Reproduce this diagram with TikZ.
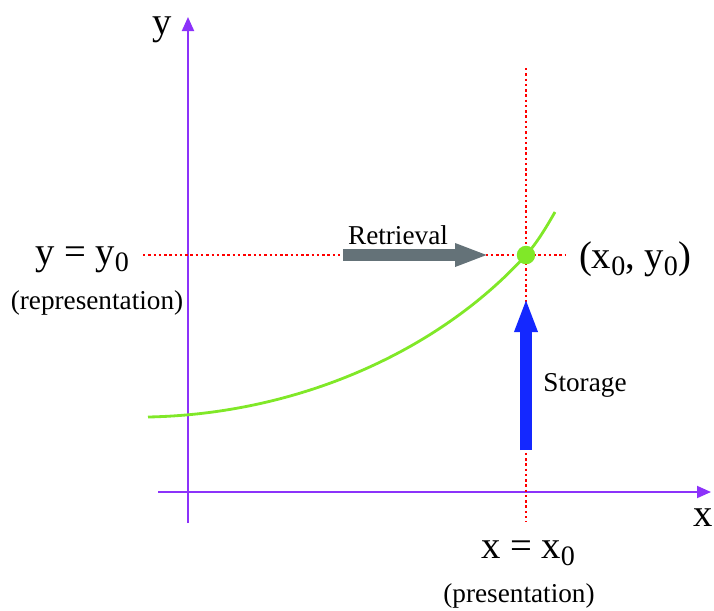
\documentclass[tikz,border=0pt]{standalone}
\usepackage{fontspec}
\setmainfont{Liberation Serif}
\usetikzlibrary{arrows.meta}
\definecolor{axisviolet}{RGB}{140,50,250}
\definecolor{curvegreen}{RGB}{128,232,40}
\definecolor{retrgray}{RGB}{100,114,120}
\definecolor{storblue}{RGB}{20,40,255}
\newcommand{\lowidx}[1]{\raisebox{-0.4ex}{\fontsize{16}{16}\selectfont #1}}
\tikzset{
  axis/.style={draw=axisviolet, line width=1.1pt, -{Triangle[length=0.28cm,width=0.24cm]}},
  guide/.style={draw=red, line width=1.4pt, dash pattern=on 1.4pt off 1.6pt},
  bigarrow/.style={line width=0.24cm, -{Triangle[length=0.68cm,width=0.42cm]}},
  biglabel/.style={font=\fontsize{22}{25}\selectfont, inner sep=0pt},
  smalllabel/.style={font=\fontsize{15.5}{17}\selectfont, inner sep=0pt},
}
\begin{document}
\begin{tikzpicture}[x=0.02cm, y=-0.02cm]
\useasboundingbox (0,0) rectangle (714,610);
% axes
\coordinate (ybot) at (188,523);
\coordinate (ytop) at (188,17);
\coordinate (xleft) at (158,492);
\coordinate (xright) at (711,492);
\draw[axis] (ybot) -- (ytop);
\draw[axis] (xleft) -- (xright);
\node[biglabel] (ylab) at (162,30) {y};
\node[biglabel] (xlab) at (703,518) {x};
% guide lines through the point
\coordinate (vtop) at (526,68);
\coordinate (vbot) at (526,522);
\coordinate (hleft) at (143,255);
\coordinate (hright) at (565,255);
\draw[guide] (vtop) -- (vbot);
\draw[guide] (hleft) -- (hright);
% the curve
\coordinate (cstart) at (148,417);
\coordinate (cend) at (555,212);
\node[circle, fill=curvegreen, inner sep=0pt, minimum size=0.37cm] (pt) at (526,255) {};
\draw[curvegreen, line width=1.6pt] (cstart) .. controls (300,414) and (440,350) .. (pt.center)
  .. controls (537,243) and (547,226) .. (cend);
% labels
\node[biglabel] (yeq) at (82,260) {y = y\lowidx{0}};
\node[smalllabel] (repr) at (97,303) {(representation)};
\node[biglabel] (ptlab) at (635,259) {(x\lowidx{0}, y\lowidx{0})};
\node[biglabel] (xeq) at (528,553) {x = x\lowidx{0}};
\node[smalllabel] (pres) at (519,596) {(presentation)};
% retrieval and storage
\coordinate (rstart) at (343,255);
\coordinate (rend) at (489,255);
\draw[bigarrow, retrgray] (rstart) -- (rend);
\node[smalllabel] (retr) at (398,235) {Retrieval};
\coordinate (sstart) at (526,450);
\coordinate (send) at (526,298);
\draw[bigarrow, storblue] (sstart) -- (send);
\node[smalllabel] (stor) at (585,385) {Storage};
\end{tikzpicture}
\end{document}
